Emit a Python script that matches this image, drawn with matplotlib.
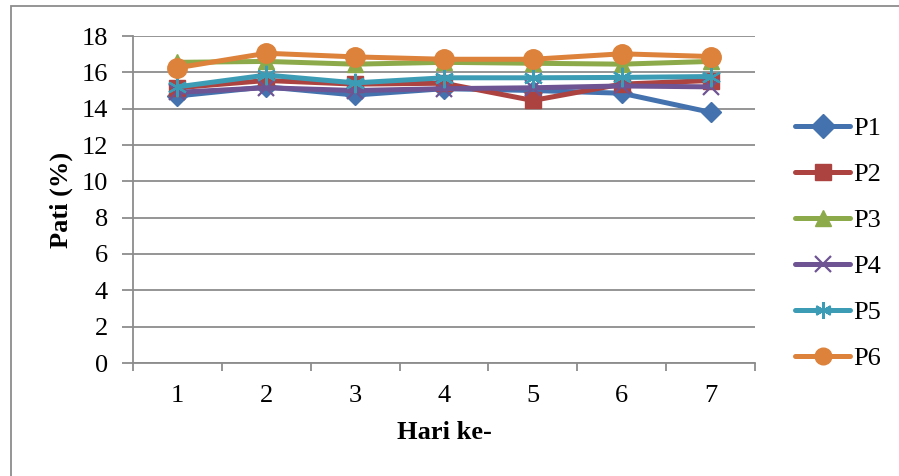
import matplotlib
matplotlib.use("Agg")
import matplotlib.pyplot as plt
from matplotlib.patches import Rectangle

days = [1, 2, 3, 4, 5, 6, 7]
day_labels = ["1", "2", "3", "4", "5", "6", "7"]
p1 = [14.7, 15.2, 14.75, 15.1, 15.0, 14.85, 13.8]
p2 = [15.15, 15.55, 15.35, 15.4, 14.45, 15.35, 15.55]
p3 = [16.55, 16.6, 16.45, 16.55, 16.5, 16.45, 16.6]
p4 = [14.9, 15.15, 15.0, 15.1, 15.15, 15.25, 15.2]
p5 = [15.2, 15.85, 15.42, 15.7, 15.7, 15.72, 15.77]
p6 = [16.25, 17.05, 16.85, 16.72, 16.72, 17.02, 16.87]
series_names = ["P1", "P2", "P3", "P4", "P5", "P6"]
y_ticks = [0, 2, 4, 6, 8, 10, 12, 14, 16, 18]

series = [p1, p2, p3, p4, p5, p6]
colors = ["#4472AE", "#AD4340", "#8CAA4A", "#6E5493", "#3D9CB5", "#DD823B"]
markers = ["D", "s", "^", "x", "*", "o"]
msizes = [10, 12, 12, 12, 14, 14]

plt.rcParams["font.family"] = ["Liberation Serif", "DejaVu Serif"]

W, H = 899, 476
fig = plt.figure(figsize=(W / 100, H / 100), dpi=100)
fig.patches.append(Rectangle((11 / W, -0.05), 1.0, (H - 6) / H + 0.05,
                             transform=fig.transFigure, fill=False,
                             edgecolor="#8c8c8c", linewidth=1.3))

ax = fig.add_axes([133 / W, (H - 363) / H, (755 - 133) / W, (363 - 36) / H])
grid_c = "#8c8c8c"
for i, (vals, name) in enumerate(zip(series, series_names)):
    m = markers[i]
    kw = {}
    if m in ("x", "*"):
        kw = dict(markeredgewidth=1.6)
        if m == "*":
            m = (6, 2, 0)
    ax.plot(days, vals, color=colors[i], linewidth=3.6, marker=m,
            markersize=msizes[i], markerfacecolor=colors[i],
            markeredgecolor=colors[i], label=name, solid_capstyle="round",
            zorder=3 + i, **kw)

ax.set_xlim(0.5, 7.5)
ax.set_ylim(0, 18)
ax.set_yticks(y_ticks)
ax.yaxis.grid(True, color=grid_c, linewidth=1.3)
ax.set_axisbelow(True)
for s in ["top", "right"]:
    ax.spines[s].set_visible(False)
for s in ["left", "bottom"]:
    ax.spines[s].set_color(grid_c)
    ax.spines[s].set_linewidth(1.3)

ax.set_xticks([0.5 + k for k in range(8)])
ax.set_xticklabels([])
ax.set_xticks(days, minor=True)
ax.set_xticklabels(day_labels, minor=True)
ax.tick_params(axis="x", which="major", length=6, width=1.3, color=grid_c)
ax.tick_params(axis="x", which="minor", length=0, pad=16, labelsize=19)
ax.tick_params(axis="y", length=8, width=1.3, color=grid_c, pad=10, labelsize=19)

ax.set_ylabel("Pati (%)", fontsize=19, fontweight="bold", labelpad=6)
ax.set_xlabel("Hari ke-", fontsize=19, fontweight="bold", labelpad=10)

leg = fig.legend(loc="center left", bbox_to_anchor=(795 / W, (H - 243.5) / H),
                 frameon=False, fontsize=19, handlelength=2.1,
                 handletextpad=0.12, labelspacing=0.85, borderpad=0,
                 borderaxespad=0)
for h in leg.legend_handles:
    h.set_markersize(12)

fig.savefig("out.png", dpi=100)
